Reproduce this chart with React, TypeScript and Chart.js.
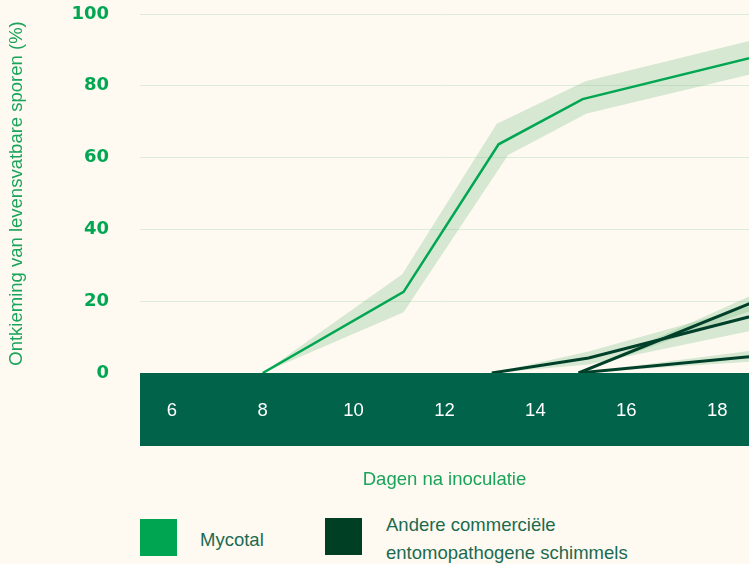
import React, { useEffect, useRef } from "react";
import { Chart, registerables } from "chart.js";

Chart.register(...registerables);

// ---- data ----
const X_TICKS = [6, 8, 10, 12, 14, 16, 18];
const Y_TICKS = [0, 20, 40, 60, 80, 100];
const X_MIN = 5.3;
const X_MAX = 18.7;

const X_TITLE = "Dagen na inoculatie";
const Y_TITLE = "Ontkieming van levensvatbare sporen (%)";
const LEGEND_MYCOTAL = "Mycotal";
const LEGEND_OTHER = ["Andere commerciële", "entomopathogene schimmels"];

// Mycotal (days, % germination) with spread band
const mycotalLine = [
  { x: 8, y: 0 },
  { x: 11.1, y: 22.6 },
  { x: 13.19, y: 63.7 },
  { x: 15.04, y: 76.3 },
  { x: 19, y: 88.6 },
];
const mycotalUpper = [
  { x: 8, y: 0 },
  { x: 11.07, y: 27.5 },
  { x: 13.15, y: 69.4 },
  { x: 15.1, y: 81.3 },
  { x: 19, y: 93.4 },
];
const mycotalLower = [
  { x: 8, y: 0 },
  { x: 11.1, y: 16.9 },
  { x: 13.4, y: 60.7 },
  { x: 15.13, y: 72.3 },
  { x: 19, y: 84.0 },
];

// other commercial entomopathogenic fungi
const otherALine = [
  { x: 13.04, y: 0 },
  { x: 15.17, y: 4.2 },
  { x: 19, y: 16.6 },
];
const otherAUpper = [
  { x: 13.04, y: 0 },
  { x: 15.17, y: 6.0 },
  { x: 19, y: 19.6 },
];
const otherALower = [
  { x: 13.04, y: 0 },
  { x: 15.17, y: 2.4 },
  { x: 19, y: 12.4 },
];
const otherBLine = [
  { x: 14.95, y: 0 },
  { x: 19, y: 20.8 },
];
const otherBUpper = [
  { x: 14.95, y: 0 },
  { x: 19, y: 23.0 },
];
const otherBLower = [
  { x: 14.95, y: 0 },
  { x: 19, y: 18.5 },
];
const otherCLine = [
  { x: 14.95, y: 0 },
  { x: 19, y: 4.9 },
];
const otherCUpper = [
  { x: 14.95, y: 0 },
  { x: 19, y: 6.6 },
];
const otherCLower = [
  { x: 14.95, y: 0 },
  { x: 19, y: 3.4 },
];

// ---- styles ----
const BG = "#fefaf1";
const GREEN = "#00a651";
const DARK = "#00402a";
const BAND_FILL = "rgba(110,185,125,0.27)";
const AXIS_BAND = "#00634a";
const GRID = "#dcecd8";
const TEXT_GREEN = "#1aa35a";
const LEGEND_TEXT = "#1b6a50";

const axisBandPlugin = {
  id: "axisBand",
  afterDatasetsDraw(chart: any) {
    const { ctx, chartArea } = chart;
    ctx.save();
    ctx.fillStyle = AXIS_BAND;
    ctx.fillRect(chartArea.left, chartArea.bottom, chartArea.right - chartArea.left, 73);
    ctx.restore();
  },
};

function band(upper: any[], lower: any[]) {
  return [
    {
      data: upper,
      borderWidth: 0,
      pointRadius: 0,
      backgroundColor: BAND_FILL,
      fill: "+1",
      order: 2,
    },
    {
      data: lower,
      borderWidth: 0,
      pointRadius: 0,
      fill: false,
      order: 2,
    },
  ];
}

function line(data: any[], color: string, width: number) {
  return {
    data,
    borderColor: color,
    borderWidth: width,
    pointRadius: 0,
    fill: false,
    tension: 0,
    order: 0,
  };
}

export default function App() {
  const canvasRef = useRef<HTMLCanvasElement | null>(null);

  useEffect(() => {
    document.body.style.margin = "0";
    document.body.style.background = BG;
    const canvas = canvasRef.current;
    if (!canvas) return;
    const datasets: any[] = [
      ...band(mycotalUpper, mycotalLower),
      ...band(otherAUpper, otherALower),
      ...band(otherBUpper, otherBLower),
      ...band(otherCUpper, otherCLower),
      line(mycotalLine, GREEN, 2.5),
      line(otherALine, DARK, 3),
      line(otherBLine, DARK, 3),
      line(otherCLine, DARK, 3),
    ];
    const chart = new Chart(canvas, {
      type: "line",
      data: { datasets },
      plugins: [axisBandPlugin],
      options: {
        animation: false,
        responsive: false,
        maintainAspectRatio: false,
        layout: { padding: { top: 14, left: 0, right: 0, bottom: 0 } },
        plugins: {
          legend: { display: false },
          tooltip: { enabled: false },
        },
        scales: {
          x: {
            type: "linear",
            min: X_MIN,
            max: X_MAX,
            grid: { display: false, drawTicks: false },
            border: { display: false },
            afterBuildTicks: (s: any) => {
              s.ticks = X_TICKS.map((v) => ({ value: v }));
            },
            afterFit: (s: any) => {
              s.height = 127;
              s.paddingLeft = 0;
              s.paddingRight = 0;
            },
            ticks: {
              z: 1,
              color: "#ffffff",
              padding: 27,
              maxRotation: 0,
              autoSkip: false,
              font: { family: "'Liberation Sans', Arial, sans-serif", size: 18.5 },
            },
            title: {
              display: true,
              text: X_TITLE,
              color: TEXT_GREEN,
              font: { family: "'Liberation Sans', Arial, sans-serif", size: 18.5 },
              padding: { top: 0, bottom: 9 },
            },
          },
          y: {
            type: "linear",
            min: 0,
            max: 100,
            afterBuildTicks: (s: any) => {
              s.ticks = Y_TICKS.map((v) => ({ value: v }));
            },
            afterFit: (s: any) => {
              s.width = 140;
              s.paddingTop = 0;
              s.paddingBottom = 0;
            },
            grid: { color: GRID, lineWidth: 1, drawTicks: false },
            border: { display: false },
            ticks: {
              color: GREEN,
              padding: 31,
              font: { family: "'DejaVu Sans', sans-serif", size: 18, weight: "bold" },
            },
            title: {
              display: true,
              text: Y_TITLE,
              color: TEXT_GREEN,
              font: { family: "'Liberation Sans', Arial, sans-serif", size: 18.5 },
              padding: { top: 6, bottom: 0 },
            },
          },
        },
      } as any,
    });
    return () => chart.destroy();
  }, []);

  const legendText: React.CSSProperties = {
    position: "absolute",
    fontFamily: "'Liberation Sans', Arial, sans-serif",
    fontSize: "18.5px",
    color: LEGEND_TEXT,
    lineHeight: "28px",
    whiteSpace: "nowrap",
  };

  return (
    <div
      style={{
        position: "relative",
        width: 749,
        height: 564,
        overflow: "hidden",
        background: BG,
      }}
    >
      <canvas ref={canvasRef} width={749} height={500} style={{ display: "block" }} />
      <div style={{ position: "absolute", left: 140, top: 519, width: 37, height: 37, background: "#00a551" }} />
      <div style={{ ...legendText, left: 200, top: 526 }}>{LEGEND_MYCOTAL}</div>
      <div style={{ position: "absolute", left: 325, top: 518, width: 37, height: 37, background: "#003f24" }} />
      <div style={{ ...legendText, left: 386, top: 511 }}>
        {LEGEND_OTHER[0]}
        <br />
        {LEGEND_OTHER[1]}
      </div>
    </div>
  );
}
